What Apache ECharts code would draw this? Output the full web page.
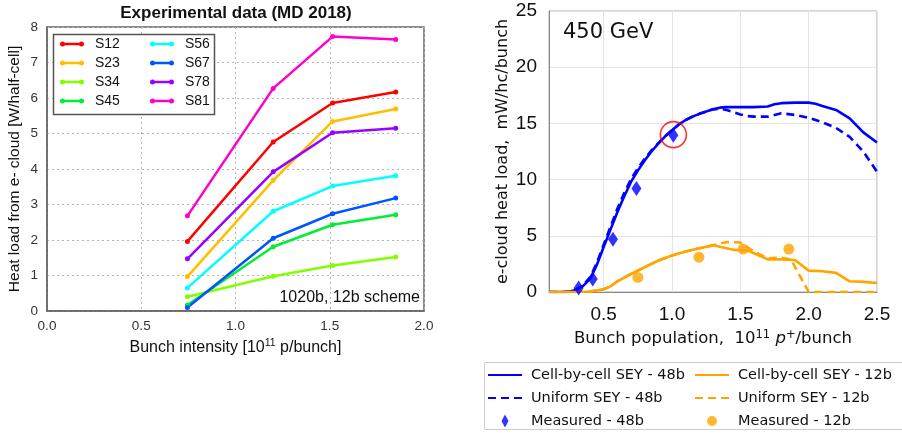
<!DOCTYPE html>
<html><head><meta charset="utf-8">
<script src="https://cdn.jsdelivr.net/npm/echarts@6/dist/echarts.min.js"></script>
<style>html,body{margin:0;padding:0;background:#fff}#c{width:902px;height:433px}</style>
</head><body><div id="c"></div>
<script>
// ---------- Left chart data (Experimental data, MD 2018) ----------
const sectorNames = ['S12','S23','S34','S45','S56','S67','S78','S81'];
const intensity = [0.745, 1.2, 1.515, 1.85];
const S12 = [1.96, 4.76, 5.86, 6.17];
const S23 = [0.97, 3.68, 5.34, 5.69];
const S34 = [0.40, 0.98, 1.28, 1.52];
const S45 = [0.17, 1.81, 2.43, 2.71];
const S56 = [0.65, 2.81, 3.52, 3.81];
const S67 = [0.10, 2.05, 2.74, 3.18];
const S78 = [1.47, 3.92, 5.02, 5.15];
const S81 = [2.68, 6.27, 7.73, 7.65];

// ---------- Right chart data (450 GeV simulations) ----------
const blueCellX = [0.10,0.15,0.20,0.25,0.30,0.35,0.40,0.45,0.50,0.55,0.60,0.65,0.70,0.75,0.80,0.85,0.90,0.95,1.00,1.05,1.10,1.15,1.20,1.25,1.30,1.35,1.40,1.50,1.60,1.70,1.75,1.80,1.90,2.00,2.05,2.10,2.20,2.30,2.40,2.50];
const blueCellY = [0,0,0,0.03,0.2,0.55,1.15,2.4,4.0,5.55,7.1,8.5,9.8,10.8,11.7,12.5,13.2,13.85,14.4,14.9,15.3,15.6,15.85,16.05,16.25,16.4,16.45,16.45,16.45,16.5,16.7,16.8,16.85,16.85,16.75,16.55,16.2,15.45,14.2,13.3];
const blueUniX = [0.10,0.15,0.20,0.25,0.30,0.35,0.40,0.45,0.50,0.55,0.60,0.65,0.70,0.75,0.80,0.85,0.90,0.95,1.00,1.05,1.10,1.15,1.20,1.25,1.30,1.35,1.40,1.45,1.50,1.55,1.60,1.70,1.80,1.90,2.00,2.10,2.20,2.30,2.40,2.50];
const blueUniY = [0,0,0,0.05,0.25,0.6,1.3,2.6,4.2,5.8,7.4,8.8,10.05,11.0,11.85,12.6,13.25,13.85,14.4,14.9,15.3,15.6,15.85,16.05,16.25,16.3,16.2,16.0,15.8,15.65,15.6,15.6,15.9,15.75,15.5,15.1,14.6,13.8,12.5,10.7];
const orangeCellX = [0.1,0.2,0.3,0.4,0.5,0.55,0.6,0.7,0.8,0.9,1.0,1.1,1.2,1.3,1.45,1.55,1.6,1.7,1.8,1.9,2.0,2.1,2.2,2.3,2.4,2.5];
const orangeCellY = [0,0,0,0.05,0.25,0.5,0.95,1.6,2.2,2.8,3.25,3.6,3.9,4.15,3.75,3.7,3.45,2.9,2.9,2.85,1.9,1.85,1.7,0.95,0.9,0.8];
const orangeUniX = [0.1,0.2,0.3,0.4,0.5,0.55,0.6,0.7,0.8,0.9,1.0,1.1,1.2,1.3,1.4,1.5,1.6,1.7,1.8,1.87,2.0,2.1,2.2,2.3,2.4,2.5];
const orangeUniY = [0,0,0,0.05,0.25,0.5,0.95,1.6,2.2,2.8,3.25,3.6,3.9,4.15,4.45,4.4,3.6,3.0,3.05,2.9,0,0,0,0,0,0];
const measured48X = [0.317, 0.42, 0.568, 0.74, 1.01];
const measured48Y = [0.35, 1.15, 4.7, 9.2, 13.95];
const measured12X = [0.75, 1.197, 1.52, 1.855];
const measured12Y = [1.3, 3.1, 3.82, 3.82];
const highlightX = [1.01];
const highlightY = [14.0];

// ---------- helpers ----------
const zip = (xs, ys) => xs.map((x, i) => [x, ys[i]]);
const leftValues = [S12, S23, S34, S45, S56, S67, S78, S81];
const leftColors = ['#ff0000', '#ffbf00', '#80ff00', '#00ee33', '#00ffff', '#0055ff', '#9900ff', '#ff00cc'];

const dotLineIcon = 'path://M0,0 M30,5 M0,2.5 A2.5,2.5 0 1,1 5,2.5 A2.5,2.5 0 1,1 0,2.5 Z M19,2.5 A2.5,2.5 0 1,1 24,2.5 A2.5,2.5 0 1,1 19,2.5 Z M2.5,1.2 L21.5,1.2 L21.5,3.8 L2.5,3.8 Z';
const solidIcon = 'path://M0,0 M38,15 M0,6.4 L34,6.4 L34,8.6 L0,8.6 Z';
const dashIcon = 'path://M0,0 M38,15 M0,6.4 L8,6.4 L8,8.6 L0,8.6 Z M13,6.4 L21,6.4 L21,8.6 L13,8.6 Z M26,6.4 L34,6.4 L34,8.6 L26,8.6 Z';
const diamondIcon = 'path://M0,0 M38,15 M17,1 L20.5,7.5 L17,14 L13.5,7.5 Z';
const circleIcon = 'path://M0,0 M38,15 M12,7.5 A5,5 0 1,1 22,7.5 A5,5 0 1,1 12,7.5 Z';

const LF = 'Liberation Sans';
const DF = 'DejaVu Sans';
const BLUE = '#0000ff';
const ORANGE = '#ffa500';

const chart = echarts.init(document.getElementById('c'), null, {renderer: 'canvas'});

const leftSeries = sectorNames.map((n, k) => ({
  name: n, type: 'line', xAxisIndex: 0, yAxisIndex: 0,
  data: zip(intensity, leftValues[k]),
  symbol: 'circle', symbolSize: 5, showSymbol: true,
  color: leftColors[k],
  lineStyle: {width: 2.5, color: leftColors[k]},
  itemStyle: {color: leftColors[k]},
  z: 2
}));

const rightSeries = [
  {name: 'Cell-by-cell SEY - 48b', type: 'line', xAxisIndex: 1, yAxisIndex: 1, data: zip(blueCellX, blueCellY),
   symbol: 'none', color: BLUE, lineStyle: {width: 2.6, color: BLUE}, z: 2},
  {name: 'Uniform SEY - 48b', type: 'line', xAxisIndex: 1, yAxisIndex: 1, data: zip(blueUniX, blueUniY),
   symbol: 'none', color: BLUE, lineStyle: {width: 2.6, color: BLUE, type: [8, 5]}, z: 2},
  {name: 'Cell-by-cell SEY - 12b', type: 'line', xAxisIndex: 1, yAxisIndex: 1, data: zip(orangeCellX, orangeCellY),
   symbol: 'none', color: ORANGE, lineStyle: {width: 2.6, color: ORANGE}, z: 3},
  {name: 'Uniform SEY - 12b', type: 'line', xAxisIndex: 1, yAxisIndex: 1, data: zip(orangeUniX, orangeUniY),
   symbol: 'none', color: ORANGE, lineStyle: {width: 2.6, color: ORANGE, type: [8, 5]}, z: 3},
  {name: 'Measured - 48b', type: 'scatter', xAxisIndex: 1, yAxisIndex: 1, data: zip(measured48X, measured48Y),
   symbol: 'diamond', symbolSize: [10, 15], color: BLUE, itemStyle: {color: BLUE}, z: 4},
  {name: 'Measured - 12b', type: 'scatter', xAxisIndex: 1, yAxisIndex: 1, data: zip(measured12X, measured12Y),
   symbol: 'circle', symbolSize: 11, color: ORANGE, itemStyle: {color: ORANGE}, z: 4},
  {name: 'highlight', type: 'scatter', xAxisIndex: 1, yAxisIndex: 1, data: zip(highlightX, highlightY),
   symbol: 'circle', symbolSize: 26, itemStyle: {color: 'rgba(0,0,0,0)', borderColor: '#ff0000', borderWidth: 1.6}, z: 5}
];

const option = {
  animation: false,
  backgroundColor: '#fff',
  grid: [
    {left: 47, top: 27, width: 377, height: 284, show: true, borderColor: '#666', borderWidth: 1.5, backgroundColor: 'transparent'},
    {left: 549, top: 11, width: 328, height: 281, show: true, borderColor: '#aaa', borderWidth: 1, backgroundColor: 'transparent'}
  ],
  xAxis: [
    {type: 'value', gridIndex: 0, min: 0, max: 2, interval: 0.5,
     axisLine: {show: true, lineStyle: {color: '#666', width: 1.5}},
     axisTick: {show: false},
     axisLabel: {fontFamily: LF, fontSize: 13.5, color: '#333', margin: 8, formatter: v => v.toFixed(1)},
     splitLine: {show: true, lineStyle: {color: '#b5b5b5', type: [2, 3], width: 1}},
     name: '{a|Bunch intensity [10}{s|11}{a| p/bunch]}', nameLocation: 'middle', nameGap: 27,
     nameTextStyle: {fontFamily: LF, fontSize: 16, color: '#111',
       rich: {a: {fontFamily: LF, fontSize: 16, color: '#111', lineHeight: 20},
              s: {fontFamily: LF, fontSize: 10.5, color: '#111', verticalAlign: 'top', lineHeight: 20}}}
    },
    {type: 'value', gridIndex: 1, min: 0.1, max: 2.5, splitNumber: 5, minInterval: 0.5, maxInterval: 0.5,
     axisLine: {show: true, lineStyle: {color: '#888', width: 1}},
     axisTick: {show: false},
     axisLabel: {fontFamily: LF, fontSize: 19, color: '#111', margin: 13, showMinLabel: false,
       formatter: v => (Math.abs(v - 0.1) < 1e-6 ? '' : v.toFixed(1))},
     splitLine: {show: true, lineStyle: {color: '#e3e3e3', width: 1}},
     name: '{a|Bunch population,  10}{s|11}{i| p}{s|+}{a|/bunch}', nameLocation: 'middle', nameGap: 37,
     nameTextStyle: {fontFamily: DF, fontSize: 16, color: '#111',
       rich: {a: {fontFamily: DF, fontSize: 16.5, color: '#111', lineHeight: 20},
              i: {fontFamily: DF, fontSize: 16.5, color: '#111', fontStyle: 'italic', lineHeight: 20},
              s: {fontFamily: DF, fontSize: 11.5, color: '#111', verticalAlign: 'top', lineHeight: 20}}}
    }
  ],
  yAxis: [
    {type: 'value', gridIndex: 0, min: 0, max: 8, interval: 1,
     axisLine: {show: true, lineStyle: {color: '#666', width: 1.5}},
     axisTick: {show: false},
     axisLabel: {fontFamily: LF, fontSize: 13.5, color: '#333', margin: 9},
     splitLine: {show: true, lineStyle: {color: '#b5b5b5', type: [2, 3], width: 1}},
     name: 'Heat load from e- cloud [W/half-cell]', nameLocation: 'middle', nameGap: 24,
     nameTextStyle: {fontFamily: LF, fontSize: 15.5, color: '#111'}
    },
    {type: 'value', gridIndex: 1, min: 0, max: 25, interval: 5,
     axisLine: {show: true, lineStyle: {color: '#888', width: 1}},
     axisTick: {show: false},
     axisLabel: {fontFamily: LF, fontSize: 19, color: '#111', margin: 12},
     splitLine: {show: true, lineStyle: {color: '#e3e3e3', width: 1}},
     name: 'e-cloud heat load,  mW/hc/bunch', nameLocation: 'middle', nameGap: 38,
     nameTextStyle: {fontFamily: DF, fontSize: 16, color: '#111'}
    }
  ],
  legend: [
    {left: 60, top: 34.5, orient: 'vertical', padding: 0, itemGap: 0, itemWidth: 30, itemHeight: 5,
     selectedMode: false, itemStyle: {borderWidth: 0}, z: 6,
     data: sectorNames.slice(0, 4).map(n => ({name: n, icon: dotLineIcon})),
     textStyle: {fontFamily: LF, fontSize: 14, color: '#111', lineHeight: 19}},
    {left: 150, top: 34.5, orient: 'vertical', padding: 0, itemGap: 0, itemWidth: 30, itemHeight: 5,
     selectedMode: false, itemStyle: {borderWidth: 0}, z: 6,
     data: sectorNames.slice(4).map(n => ({name: n, icon: dotLineIcon})),
     textStyle: {fontFamily: LF, fontSize: 14, color: '#111', lineHeight: 19}},
    {left: 488, top: 363.5, orient: 'vertical', padding: 0, itemGap: 0, itemWidth: 38, itemHeight: 15,
     selectedMode: false, itemStyle: {borderWidth: 0}, z: 6,
     data: [{name: 'Cell-by-cell SEY - 48b', icon: solidIcon}, {name: 'Uniform SEY - 48b', icon: dashIcon}, {name: 'Measured - 48b', icon: diamondIcon}],
     textStyle: {fontFamily: DF, fontSize: 14.5, color: '#111', lineHeight: 23}},
    {left: 695, top: 363.5, orient: 'vertical', padding: 0, itemGap: 0, itemWidth: 38, itemHeight: 15,
     selectedMode: false, itemStyle: {borderWidth: 0}, z: 6,
     data: [{name: 'Cell-by-cell SEY - 12b', icon: solidIcon}, {name: 'Uniform SEY - 12b', icon: dashIcon}, {name: 'Measured - 12b', icon: circleIcon}],
     textStyle: {fontFamily: DF, fontSize: 14.5, color: '#111', lineHeight: 23}}
  ],
  graphic: [
    {type: 'rect', z: 3, silent: true, shape: {x: 53.5, y: 34.5, width: 161, height: 80},
     style: {fill: '#fff', stroke: '#555', lineWidth: 1.5}},
    {type: 'rect', z: 3, silent: true, shape: {x: 484.5, y: 362.5, width: 430, height: 67},
     style: {fill: '#fff', stroke: '#cfcfcf', lineWidth: 1}},
    {type: 'text', z: 7, silent: true, x: 236, y: 13,
     style: {text: 'Experimental data (MD 2018)', font: 'bold 17px "Liberation Sans"', fill: '#111',
             textAlign: 'center', textVerticalAlign: 'middle', align: 'center', verticalAlign: 'middle'}},
    {type: 'text', z: 7, silent: true, x: 420, y: 298,
     style: {text: '1020b, 12b scheme', font: '16px "Liberation Sans"', fill: '#111',
             textAlign: 'right', textVerticalAlign: 'middle', align: 'right', verticalAlign: 'middle'}},
    {type: 'text', z: 7, silent: true, x: 563, y: 33,
     style: {text: '450 GeV', font: '21px "DejaVu Sans"', fill: '#111',
             textAlign: 'left', textVerticalAlign: 'middle', align: 'left', verticalAlign: 'middle'}}
  ],
  series: leftSeries.concat(rightSeries)
};
chart.setOption(option);
</script>
</body></html>
